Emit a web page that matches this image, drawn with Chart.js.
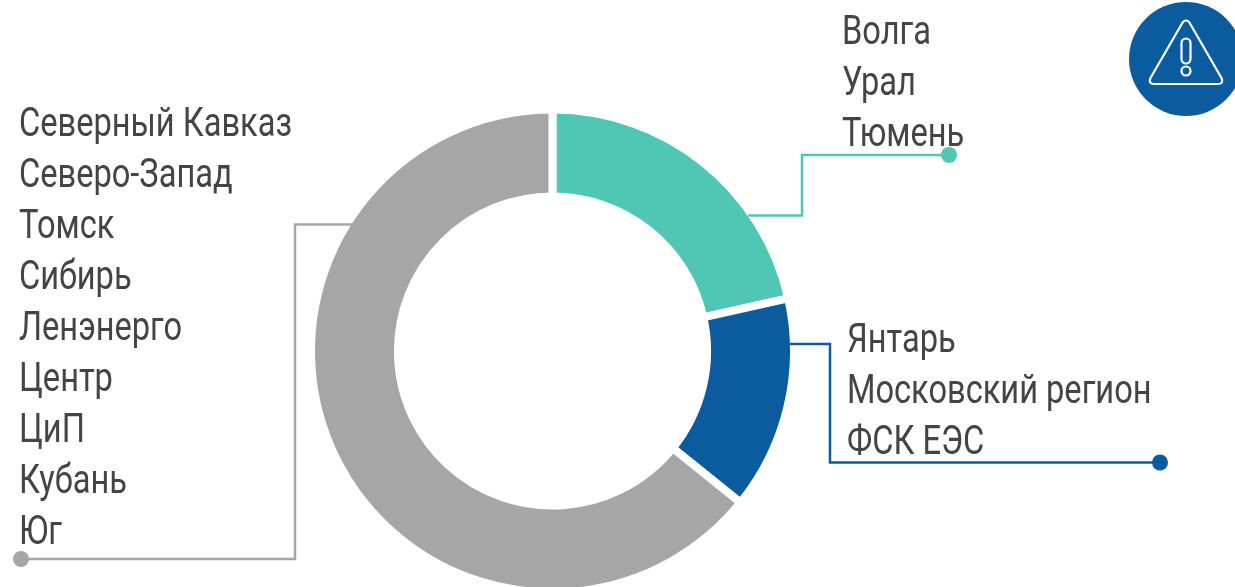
<!DOCTYPE html>
<html lang="ru">
<head>
<meta charset="utf-8">
<title>Распределение по регионам</title>
<script src="https://cdn.jsdelivr.net/npm/chart.js@4"></script>
<style>
    html, body { margin: 0; padding: 0; background: #fff; overflow: hidden; }
    #wrap { position: relative; width: 1235px; height: 587px; overflow: hidden; }
    #wrap canvas { position: absolute; left: 0; top: 0; }
    #icon { position: absolute; left: 1129px; top: 2px; }
</style>
</head>
<body>
<div id="wrap">
    <canvas id="donutChart" width="1235" height="702"></canvas>
    <svg id="icon" width="115" height="115" viewBox="0 0 115 115">
        <circle cx="57" cy="57" r="57" fill="#0b5c9e"/>
        <path d="M57 18.500 Q59.500 18.500 61 21.500 L92.500 76 Q95 81.500 89.500 82 L24.500 82 Q19 81.500 21.500 76 L53 21.500 Q54.500 18.500 57 18.500 Z" fill="none" stroke="#fff" stroke-width="2.200"/>
        <rect x="52.500" y="36.500" width="9" height="25" rx="4.500" fill="none" stroke="#fff" stroke-width="2.200"/>
        <circle cx="57" cy="69" r="4.500" fill="none" stroke="#fff" stroke-width="2.200"/>
    </svg>
</div>
<script>
// Доли сегментов (в процентах)
const segments = ['Волга, Урал, Тюмень', 'Янтарь, Московский регион, ФСК ЕЭС', 'Северный Кавказ, Северо-Запад и др.'];
const shares = [21.5, 14.3, 64.2];
const colors = ['#50c7b5', '#0b5c9e', '#a6a6a6'];

// Подписи групп
const tealLabels = ['Волга', 'Урал', 'Тюмень'];
const blueLabels = ['Янтарь', 'Московский регион', 'ФСК ЕЭС'];
const grayLabels = ['Северный Кавказ', 'Северо-Запад', 'Томск', 'Сибирь', 'Ленэнерго', 'Центр', 'ЦиП', 'Кубань', 'Юг'];

const LINE_STEP = 51;
const TEXT_SQUEEZE = 0.815; // в системе нет узкого шрифта, сжимаем Roboto
const textFont = '400 40px Roboto, sans-serif';

function drawColumn(ctx, lines, x, y) {
    lines.forEach((t, i) => {
        ctx.save();
        ctx.translate(x, y + i * LINE_STEP);
        ctx.scale(TEXT_SQUEEZE, 1);
        ctx.fillText(t, 0, 0);
        ctx.restore();
    });
}

function drawLeader(ctx, color, pts) {
    ctx.strokeStyle = color;
    ctx.fillStyle = color;
    ctx.lineWidth = 2.5;
    ctx.lineJoin = 'miter';
    ctx.beginPath();
    pts.forEach((p, i) => i ? ctx.lineTo(p[0], p[1]) : ctx.moveTo(p[0], p[1]));
    ctx.stroke();
    const end = pts[pts.length - 1];
    ctx.beginPath();
    ctx.arc(end[0], end[1], 8, 0, Math.PI * 2);
    ctx.fill();
}

// Подписи и выноски
const calloutPlugin = {
    id: 'callouts',
    afterDraw(chart) {
        const ctx = chart.ctx;
        ctx.save();
        ctx.font = textFont;
        ctx.fillStyle = '#444444';
        ctx.textBaseline = 'alphabetic';
        drawColumn(ctx, tealLabels, 842, 44);
        drawColumn(ctx, blueLabels, 847, 352);
        drawColumn(ctx, grayLabels, 19, 136);

        drawLeader(ctx, colors[0], [[748, 215.500], [802, 215.500], [802, 155], [949, 155]]);
        drawLeader(ctx, colors[1], [[790, 344], [830, 344], [830, 462.500], [1160, 462.500]]);
        drawLeader(ctx, colors[2], [[352, 224.500], [295, 224.500], [295, 559], [21, 559]]);
        ctx.restore();
    }
};

// Канвас выше окна: низ кольца обрезан краем картинки
const donutChart = new Chart(document.getElementById('donutChart'), {
    type: 'doughnut',
    data: {
        labels: segments,
        datasets: [{
            data: shares,
            backgroundColor: colors,
            borderColor: '#ffffff',
            borderWidth: 8,
            hoverOffset: 0
        }]
    },
    options: {
        responsive: false,
        animation: false,
        radius: 241.500,
        cutout: '64%',
        layout: { padding: { right: 130 } },
        plugins: { legend: { display: false }, tooltip: { enabled: false } }
    },
    plugins: [calloutPlugin]
});
</script>
</body>
</html>
